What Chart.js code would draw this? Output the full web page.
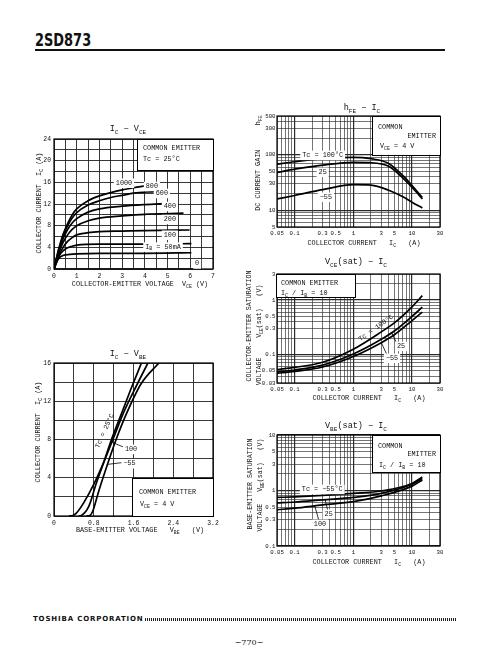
<!DOCTYPE html>
<html>
<head>
<meta charset="utf-8">
<script src="https://cdn.jsdelivr.net/npm/chart.js@4.4.0/dist/chart.umd.min.js"></script>
<style>
body{margin:0;background:#fff;width:489px;height:660px;position:relative;overflow:hidden}
canvas{position:absolute}
#ttl{position:absolute;left:35px;top:31px;font:bold 18px/18px "Liberation Sans Narrow","DejaVu Sans Condensed",sans-serif;color:#111;transform:scaleX(0.8);transform-origin:0 0}
#rule{position:absolute;left:35px;top:49px;width:410px;height:2px;background:#111}
#foot{position:absolute;left:33px;top:615px;font:bold 7px/8px "DejaVu Sans",sans-serif;letter-spacing:0.85px;color:#111}
#dots{position:absolute;left:145px;top:618px;width:312px;height:3px;background:repeating-linear-gradient(90deg,#222 0 1px,#fff 1px 2px)}
#pg{position:absolute;left:229px;top:638px;width:40px;text-align:center;font:8px/10px "DejaVu Serif",serif;color:#111}
</style>
</head>
<body>
<div id="ttl">2SD873</div><div id="rule"></div>
<div id="foot">TOSHIBA CORPORATION</div><div id="dots"></div>
<div id="pg">−770−</div>
<canvas id="c1"></canvas><canvas id="c2"></canvas><canvas id="c3"></canvas>
<canvas id="c4"></canvas><canvas id="c5"></canvas>
<script>
// ---- IC - VCE  (points are [VCE, IC]) ----
const ibLabels = ['1000', '800', '600', '400', '200', '100', 'I_B = 50mA', '0'];
const ib1000 = [[0,0],[0.2,3.6],[0.4,6.4],[0.6,8.4],[0.8,10],[1,11.1],[1.5,12.6],[2,13.5],[2.5,14.1],[3,14.6],[3.5,15],[4.07,15.4]];
const ib800 = [[0,0],[0.2,3.4],[0.4,6.1],[0.6,8],[0.8,9.4],[1,10.4],[1.5,11.8],[2,12.6],[2.5,13.2],[3,13.6],[3.5,14],[4.43,14.3]];
const ib600 = [[0,0],[0.2,3.1],[0.4,5.6],[0.6,7.3],[0.8,8.5],[1,9.3],[1.5,10.5],[2,11.1],[3,11.6],[4,11.9],[4.95,12.1]];
const ib400 = [[0,0],[0.2,2.8],[0.4,4.9],[0.6,6.3],[0.8,7.3],[1,8],[1.5,8.9],[2,9.4],[3,9.8],[4,10.1],[5.7,10.3]];
const ib200 = [[0,0],[0.2,2.3],[0.4,4],[0.6,5.1],[0.8,5.8],[1,6.3],[1.5,6.7],[2,6.9],[3,7],[4,7.1],[5.97,7.2]];
const ib100 = [[0,0],[0.15,1.7],[0.3,2.9],[0.5,3.7],[0.8,4.2],[1,4.4],[2,4.6],[4,4.6],[6.05,4.7]];
const ib50 = [[0,0],[0.1,1.1],[0.2,1.9],[0.4,2.5],[0.7,2.7],[1,2.8],[2,2.9],[4,2.9],[6.05,3]];
const ib0 = [[0,0],[6.2,0]];

// ---- hFE - IC ----
const icGain = [0.05, 0.1, 0.3, 1, 2, 4, 7, 10, 15];
const hfe100 = [68, 75, 85, 90, 85, 70, 42, 28, 17];
const hfe25 = [48, 55, 65, 73, 72, 62, 38, 26, 16];
const hfeM55 = [16, 18.5, 23.5, 29, 28.5, 23, 17.5, 14, 11];

// ---- VCE(sat) - IC ----
const icSat = [0.05, 0.1, 0.3, 1, 3, 5, 10, 15];
const vce100 = [0.053, 0.058, 0.072, 0.125, 0.26, 0.38, 0.75, 1.2];
const vce25 = [0.048, 0.052, 0.064, 0.102, 0.19, 0.27, 0.5, 0.74];
const vceM55 = [0.045, 0.049, 0.059, 0.092, 0.165, 0.23, 0.42, 0.6];

// ---- IC - VBE  (points are [VBE, IC]) ----
const vbe25 = [[0.5,0],[0.55,0.05],[0.7,1],[0.85,3.4],[1,5.6],[1.15,7.9],[1.35,10.6],[1.55,13.3],[1.76,16]];
const vbe100 = [[0.3,0],[0.38,0.05],[0.45,0.3],[0.6,1.4],[0.8,3.3],[1,5.6],[1.2,8.2],[1.4,10.8],[1.6,13],[1.89,16]];
const vbeM55 = [[0.65,0],[0.72,0.05],[0.78,0.5],[0.9,2.6],[1.05,5],[1.25,8],[1.45,10.6],[1.75,13.8],[2.11,16]];

// ---- VBE(sat) - IC ----
const icBe = [0.05, 0.1, 0.3, 1, 3, 10, 15];
const vbsM55 = [0.75, 0.77, 0.82, 0.89, 0.98, 1.34, 1.75];
const vbs25 = [0.6, 0.62, 0.68, 0.75, 0.89, 1.3, 1.65];
const vbs100 = [0.45, 0.48, 0.55, 0.63, 0.8, 1.2, 1.55];

// tick labels
const icTicks = [0.05, 0.1, 0.3, 0.5, 1, 3, 5, 10, 30];
const hfeTicks = [5, 10, 30, 50, 100, 300, 500];
const vceTicks = [0.03, 0.05, 0.1, 0.3, 0.5, 1, 3];
const vbsTicks = [0.1, 0.3, 0.5, 1, 3, 5, 10];

const FONT = '"Liberation Mono","DejaVu Sans Mono",monospace';
const INK = '#111';

function logGrid(lo, hi) {
  const out = [];
  for (let d = 0.01; d <= 100; d *= 10) {
    for (let m = 1; m < 10; m++) {
      const v = parseFloat((m * d).toPrecision(3));
      if (v >= lo - 1e-9 && v <= hi + 1e-9) out.push(v);
    }
  }
  return out;
}
const isDecade = v => Math.abs(Math.log10(v) - Math.round(Math.log10(v))) < 1e-6;

function pieces(s) {
  const out = [], re = /_([A-Za-z]+)/g;
  let last = 0, m;
  while ((m = re.exec(s))) {
    if (m.index > last) out.push({t: s.slice(last, m.index), sub: false});
    out.push({t: m[1], sub: true});
    last = re.lastIndex;
  }
  if (last < s.length) out.push({t: s.slice(last), sub: false});
  return out;
}
function richWidth(g, s, size) {
  let w = 0;
  pieces(s).forEach(p => { g.font = (p.sub ? size * 0.72 : size) + 'px ' + FONT; w += g.measureText(p.t).width; });
  return w;
}
function rich(g, s, x, y, size, align, rot) {
  const ps = pieces(s), w = richWidth(g, s, size);
  g.save();
  g.translate(x, y);
  if (rot) g.rotate(rot);
  g.textBaseline = 'middle'; g.textAlign = 'left'; g.fillStyle = INK;
  let px = align === 'left' ? 0 : align === 'right' ? -w : -w / 2;
  ps.forEach(p => {
    g.font = (p.sub ? size * 0.72 : size) + 'px ' + FONT;
    g.fillText(p.t, px, p.sub ? size * 0.35 : 0);
    px += g.measureText(p.t).width;
  });
  g.restore();
}
function tag(g, s, x, y, size) {
  const w = richWidth(g, s, size);
  g.fillStyle = '#fff';
  g.fillRect(x - w / 2 - 2, y - size * 0.65, w + 4, size * 1.4);
  rich(g, s, x, y, size, 'center');
}
function box(g, x1, y1, x2, y2) {
  g.fillStyle = '#fff'; g.fillRect(x1, y1, x2 - x1, y2 - y1);
  g.strokeStyle = '#000'; g.lineWidth = 1;
  g.strokeRect(x1 + 0.5, y1 + 0.5, x2 - x1 - 1, y2 - y1 - 1);
}
function lead(g, x1, y1, x2, y2) {
  g.strokeStyle = '#000'; g.lineWidth = 0.8;
  g.beginPath(); g.moveTo(x1, y1); g.lineTo(x2, y2); g.stroke();
}

function curve(pts) {
  return {data: pts.map(p => ({x: p[0], y: p[1]})), showLine: true, borderColor: '#000', borderWidth: 1.7,
    pointRadius: 0, cubicInterpolationMode: 'monotone', fill: false};
}
function curveXY(xs, ys) { return curve(xs.map((x, i) => [x, ys[i]])); }

function linAxis(min, max, step, label) {
  return {type: 'linear', min, max,
    ticks: {stepSize: step, autoSkip: false, maxRotation: 0, padding: 3, color: INK, font: {family: FONT, size: 6.4}, callback: label},
    grid: {color: '#222', lineWidth: 0.9, drawTicks: false}, border: {display: false}};
}
function logAxis(min, max, labels, pad) {
  const grid = logGrid(min, max);
  return {type: 'logarithmic', min, max,
    afterBuildTicks: s => { s.ticks = grid.map(v => ({value: v})); },
    ticks: {autoSkip: false, maxRotation: 0, padding: pad, color: INK, font: {family: FONT, size: 5.7},
      callback: v => labels.includes(v) ? String(v) : ''},
    grid: {color: '#2a2a2a', lineWidth: c => (c.tick && isDecade(c.tick.value)) ? 1.2 : 0.65, drawTicks: false},
    border: {display: false}};
}

function panel(id, cbox, area, xs, ys, datasets, deco) {
  const [cx, cy, cw, ch] = cbox, [pl, pt, pr, pb] = area;
  const YW = 22, XH = 14;
  const cv = document.getElementById(id);
  cv.width = cw; cv.height = ch;
  cv.style.left = cx + 'px'; cv.style.top = cy + 'px';
  cv.style.width = cw + 'px'; cv.style.height = ch + 'px';
  xs.afterFit = s => { s.height = XH; };
  ys.afterFit = s => { s.width = YW; };
  new Chart(cv, {
    type: 'scatter',
    data: {datasets},
    options: {
      responsive: false, animation: false, events: [],
      layout: {padding: {left: pl - cx - YW, top: pt - cy, right: cx + cw - pr, bottom: cy + ch - pb - XH}},
      plugins: {legend: {display: false}, tooltip: {enabled: false}},
      scales: {x: xs, y: ys}
    },
    plugins: [{
      id: 'deco',
      afterDraw(c) {
        const g = c.ctx, a = c.chartArea;
        g.save();
        g.strokeStyle = '#000'; g.lineWidth = 1.2;
        g.strokeRect(a.left, a.top, a.right - a.left, a.bottom - a.top);
        g.translate(-cx, -cy);
        const X = v => c.scales.x.getPixelForValue(v) + cx;
        const Y = v => c.scales.y.getPixelForValue(v) + cy;
        deco(g, X, Y);
        g.restore();
      }
    }]
  });
}

// IC - VCE
panel('c1', [0, 100, 240, 200], [54, 139, 213, 269],
  linAxis(0, 7, 0.5, v => Number.isInteger(v) ? String(v) : ''),
  linAxis(0, 24, 2, v => v % 4 === 0 ? String(v) : ''),
  [ib1000, ib800, ib600, ib400, ib200, ib100, ib50, ib0].map(curve),
  (g, X, Y) => {
    rich(g, 'I_C − V_CE', 128, 129, 8.5, 'center');
    rich(g, 'COLLECTOR-EMITTER VOLTAGE  V_CE (V)', 140, 284, 6.8, 'center');
    rich(g, 'COLLECTOR CURRENT  I_C (A)', 39, 203, 6.8, 'center', -Math.PI / 2);
    box(g, 137, 139, 214, 171);
    rich(g, 'COMMON EMITTER', 143, 148, 6.8, 'left');
    rich(g, 'Tc = 25°C', 143, 159, 6.8, 'left');
    const at = [[3.08, 15.9], [4.31, 15.3], [4.75, 14.0], [5.1, 11.6], [5.1, 9.2], [5.1, 6.3], [4.8, 4.1], [6.3, 1.0]];
    ibLabels.forEach((t, i) => tag(g, t, X(at[i][0]), Y(at[i][1]), 6.8));
  });

// hFE - IC
panel('c2', [240, 95, 249, 160], [277, 116, 440, 227],
  logAxis(0.05, 30, icTicks, 3), logAxis(5, 500, hfeTicks, 1.5),
  [curveXY(icGain, hfe100), curveXY(icGain, hfe25), curveXY(icGain, hfeM55)],
  (g, X, Y) => {
    rich(g, 'h_FE − I_C', 362, 108, 8.5, 'center');
    rich(g, 'COLLECTOR CURRENT   I_C   (A)', 364, 243, 6.8, 'center');
    rich(g, 'DC CURRENT GAIN      h_FE', 258, 163, 6.8, 'center', -Math.PI / 2);
    box(g, 372, 116, 441, 156);
    rich(g, 'COMMON', 378, 127, 6.8, 'left');
    rich(g, 'EMITTER', 436, 136, 6.8, 'right');
    rich(g, 'V_CE = 4 V', 380, 146, 6.8, 'left');
    tag(g, 'Tc = 100°C', X(0.3), Y(99), 6.8);
    tag(g, '25', X(0.3), Y(49), 6.8);
    tag(g, '−55', X(0.34), Y(17.4), 6.8);
  });

// VCE(sat) - IC
panel('c3', [240, 255, 249, 150], [277, 274, 440, 383],
  logAxis(0.05, 30, icTicks, 3), logAxis(0.03, 3, vceTicks, 1.5),
  [curveXY(icSat, vce100), curveXY(icSat, vce25), curveXY(icSat, vceM55)],
  (g, X, Y) => {
    rich(g, 'V_CE(sat) − I_C', 356, 262, 8.5, 'center');
    rich(g, 'COLLECTOR CURRENT   I_C   (A)', 369, 398, 6.8, 'center');
    rich(g, 'COLLECTOR-EMITTER SATURATION', 249, 326, 6.6, 'center', -Math.PI / 2);
    rich(g, 'VOLTAGE     V_CE(sat)   (V)', 259, 335, 6.6, 'center', -Math.PI / 2);
    box(g, 276, 274, 356, 298);
    rich(g, 'COMMON EMITTER', 281, 283, 6.8, 'left');
    rich(g, 'I_C / I_B = 10', 281, 293, 6.8, 'left');
    rich(g, 'Tc = 100°C', X(2.43), Y(0.306), 6.8, 'center', -0.62);
    lead(g, X(5.5), Y(0.16), X(4.5), Y(0.25));
    tag(g, '25', X(6.5), Y(0.143), 6.8);
    lead(g, X(3.8), Y(0.095), X(3), Y(0.165));
    tag(g, '−55', X(4.56), Y(0.0864), 6.8);
  });

// IC - VBE
panel('c4', [0, 340, 240, 200], [54, 363, 213, 516],
  linAxis(0, 3.2, 0.4, v => Math.round(v * 10) % 8 === 0 ? (v === 0 ? '0' : v.toFixed(1)) : ''),
  linAxis(0, 16, 2, v => v % 4 === 0 ? String(v) : ''),
  [curve(vbe25), curve(vbe100), curve(vbeM55)],
  (g, X, Y) => {
    rich(g, 'I_C − V_BE', 128, 354, 8.5, 'center');
    rich(g, 'BASE-EMITTER VOLTAGE   V_BE   (V)', 140, 530, 6.8, 'center');
    rich(g, 'COLLECTOR CURRENT  I_C (A)', 38, 432, 6.8, 'center', -Math.PI / 2);
    box(g, 132, 478, 214, 517);
    rich(g, 'COMMON EMITTER', 139, 492, 6.8, 'left');
    rich(g, 'V_CE = 4 V', 140, 504, 6.8, 'left');
    rich(g, 'Tc = 25°C', X(1.02), Y(8.9), 6.8, 'center', -1.15);
    lead(g, X(1.45), Y(7.1), X(1.17), Y(7.7));
    tag(g, '100', X(1.55), Y(7.0), 6.8);
    lead(g, X(1.4), Y(5.6), X(1.08), Y(5.4));
    tag(g, '−55', X(1.52), Y(5.5), 6.8);
  });

// VBE(sat) - IC
panel('c5', [240, 410, 249, 160], [277, 435, 440, 546],
  logAxis(0.05, 30, icTicks, 3), logAxis(0.1, 10, vbsTicks, 1.5),
  [curveXY(icBe, vbsM55), curveXY(icBe, vbs25), curveXY(icBe, vbs100)],
  (g, X, Y) => {
    rich(g, 'V_BE(sat) − I_C', 356, 426, 8.5, 'center');
    rich(g, 'COLLECTOR CURRENT   I_C   (A)', 369, 562, 6.8, 'center');
    rich(g, 'BASE-EMITTER SATURATION', 250, 484, 6.6, 'center', -Math.PI / 2);
    rich(g, 'VOLTAGE   V_BE(sat)   (V)', 260, 485, 6.6, 'center', -Math.PI / 2);
    box(g, 372, 435, 441, 473);
    rich(g, 'COMMON', 378, 446, 6.8, 'left');
    rich(g, 'EMITTER', 436, 454, 6.8, 'right');
    rich(g, 'I_C / I_B = 10', 379, 465, 6.8, 'left');
    tag(g, 'Tc = −55°C', X(0.295), Y(1.06), 6.8);
    lead(g, X(0.37), Y(0.42), X(0.33), Y(0.68));
    tag(g, '25', X(0.38), Y(0.378), 6.8);
    lead(g, X(0.26), Y(0.28), X(0.22), Y(0.53));
    tag(g, '100', X(0.27), Y(0.249), 6.8);
  });
</script>
</body>
</html>
